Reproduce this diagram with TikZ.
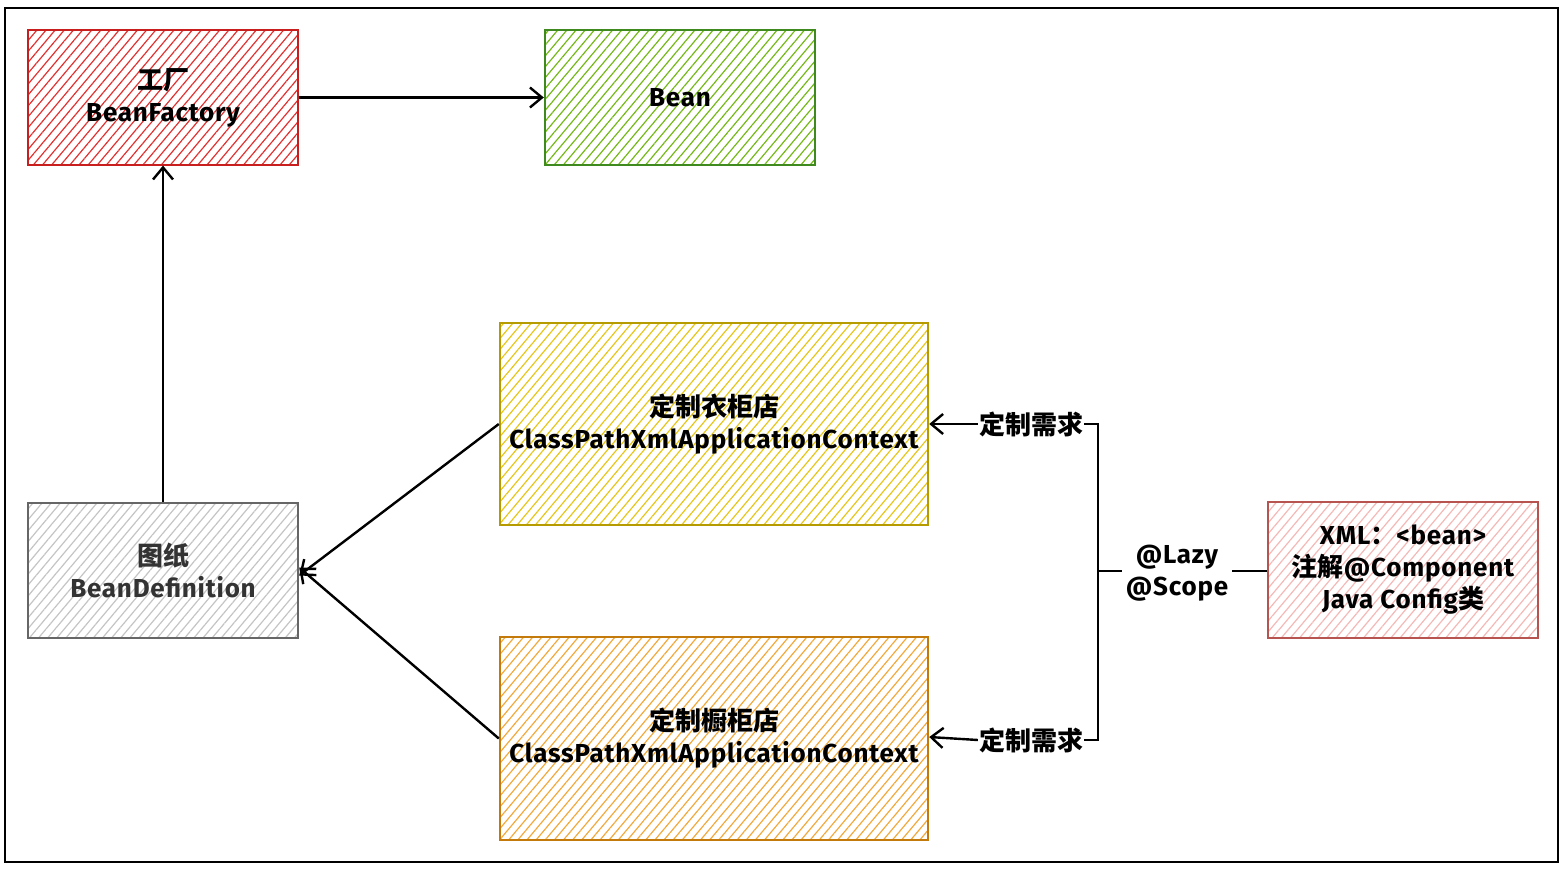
\documentclass[tikz,border=0pt]{standalone}
\usepackage{fontspec}
\setmainfont{Fira Sans}[LetterSpace=3]
\newfontfamily\cjk{Noto Sans CJK SC}
\usetikzlibrary{arrows.meta,patterns.meta}
\definecolor{redS}{HTML}{C81E1E}
\definecolor{redH}{HTML}{E03131}
\definecolor{greenS}{HTML}{3F8A1E}
\definecolor{greenH}{HTML}{74B816}
\definecolor{grayS}{HTML}{666666}
\definecolor{grayH}{HTML}{C4C4C4}
\definecolor{yelS}{HTML}{B59A00}
\definecolor{yelH}{HTML}{E6C619}
\definecolor{oraS}{HTML}{C47A0A}
\definecolor{oraH}{HTML}{F2A93B}
\definecolor{pinkS}{HTML}{B85450}
\definecolor{pinkH}{HTML}{F4B8B6}
\begin{document}
\begin{tikzpicture}[x=1pt,y=-1pt,
  box/.style={draw=#1S, line width=2.4pt, pattern={Lines[angle=50,distance=7pt,line width=1.2pt]}, pattern color=#1H,
    align=center, font=\fontsize{26}{32}\selectfont\bfseries, text=black, inner sep=0pt},
  lbl/.style={font=\fontsize{26}{32}\selectfont\bfseries, align=center, inner sep=1pt},
  conn/.style={line width=2.4pt, black},
  arr/.style={conn, -{Straight Barb[length=12pt,width=20pt,line width=2.4pt]}},
]
\useasboundingbox (0,0) rectangle (1565,869);
\draw[line width=2.4pt] (5,8) rectangle (1558,862);

\node[box=red, minimum width=270pt, minimum height=135pt] (bf) at (163,97.5) {{\cjk\bfseries 工厂}\\BeanFactory};
\node[box=green, minimum width=270pt, minimum height=135pt] (bean) at (680,97.5) {Bean};
\node[box=gray, minimum width=270pt, minimum height=135pt, text=black!80] (bd) at (163,570.5) {{\cjk\bfseries 图纸}\\BeanDefinition};
\node[box=yel, minimum width=428pt, minimum height=202pt] (ys) at (714,424) {{\cjk\bfseries 定制衣柜店}\\ClassPathXmlApplicationContext};
\node[box=ora, minimum width=428pt, minimum height=203pt] (os) at (714,738.5) {{\cjk\bfseries 定制橱柜店}\\ClassPathXmlApplicationContext};
\node[box=pink, minimum width=270pt, minimum height=136pt] (xml) at (1403,570) {XML{\cjk\bfseries ：}<bean>\\{\cjk\bfseries 注解}@Component\\Java Config{\cjk\bfseries 类}};

\node[lbl] (l1) at (1031,424) {\cjk\bfseries 定制需求};
\node[lbl] (l2) at (1031,740) {\cjk\bfseries 定制需求};
\node[lbl, inner sep=4pt] (lz) at (1177,573) {@Lazy\\@Scope};
\coordinate (j) at (1098,571);

\draw[arr] (bf.east) -- (bean.west);
\draw[arr] (bd.north) -- (bf.south);
\draw[arr] (ys.west) -- ([yshift=-5pt]bd.east);
\draw[arr] (os.west) -- ([yshift=3pt]bd.east);
\draw[arr] (l1.west) -- (ys.east);
\draw[arr] (l2.west) -- ([yshift=1.5pt]os.east);
\draw[conn] (l1.east) -| (j) |- (l2.east);
\draw[conn] (j) -- (lz.west |- j);
\draw[conn] (lz.east |- j) -- (xml.west |- j);
\end{tikzpicture}
\end{document}
